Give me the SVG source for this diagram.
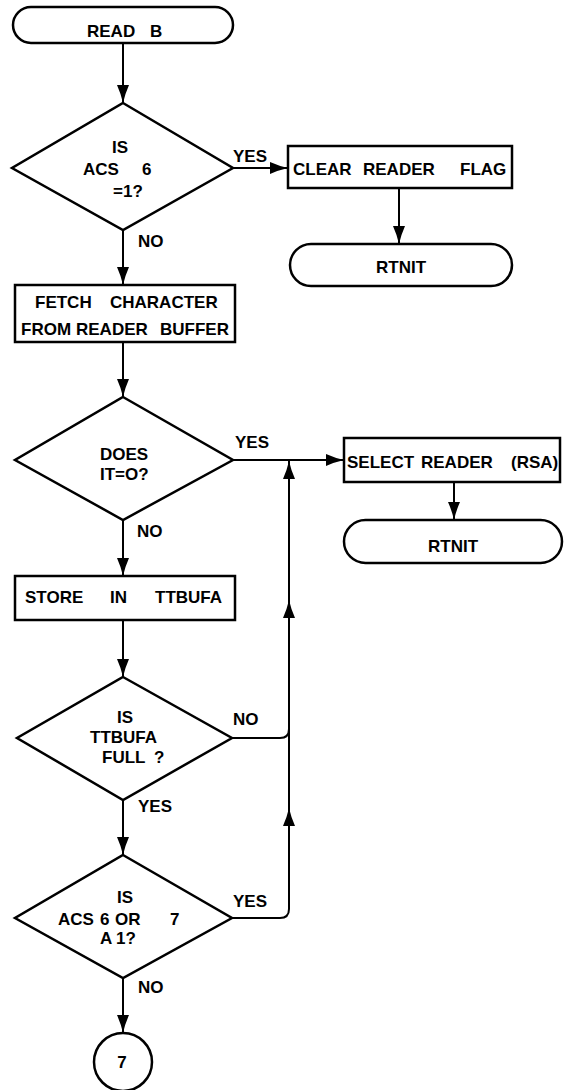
<svg xmlns="http://www.w3.org/2000/svg" width="565" height="1090" viewBox="0 0 565 1090">
<style>
.s{fill:#fff;stroke:#000;stroke-width:2.5}
.c{fill:none;stroke:#000;stroke-width:2}
text{font-family:"Liberation Sans",Arial,sans-serif;font-weight:bold;font-size:17px;fill:#000}
.m{text-anchor:middle}
</style>
<defs>
<marker id="arr" markerUnits="userSpaceOnUse" markerWidth="19" markerHeight="13" refX="18" refY="6.5" orient="auto">
<path d="M0,0.5 Q9,4.5 18,6.5 Q9,8.5 0,12.5 z" fill="#000"/>
</marker>
</defs>
<rect width="565" height="1090" fill="#fff"/>
<g id="connectors">
<path class="c" d="M123,43 V103" marker-end="url(#arr)"/>
<path class="c" d="M233,168 H288" marker-end="url(#arr)"/>
<path class="c" d="M399,188 V244" marker-end="url(#arr)"/>
<path class="c" d="M123,230 V285" marker-end="url(#arr)"/>
<path class="c" d="M123,342 V397" marker-end="url(#arr)"/>
<path class="c" d="M233,460 H344" marker-end="url(#arr)"/>
<path class="c" d="M454,482 V520" marker-end="url(#arr)"/>
<path class="c" d="M123,520 V576" marker-end="url(#arr)"/>
<path class="c" d="M123,620 V677" marker-end="url(#arr)"/>
<path class="c" d="M232,738 H280 Q289,738 289,729"/>
<path class="c" d="M232,918 H280 Q289,918 289,909 V808" marker-end="url(#arr)"/>
<path class="c" d="M289,808 V600" marker-end="url(#arr)"/>
<path class="c" d="M289,600 V461" marker-end="url(#arr)"/>
<path class="c" d="M123,800 V855" marker-end="url(#arr)"/>
<path class="c" d="M123,978 V1033" marker-end="url(#arr)"/>
<text x="233" y="162">YES</text>
<text x="138" y="247">NO</text>
<text x="235" y="448">YES</text>
<text x="137" y="537">NO</text>
<text x="233" y="725">NO</text>
<text x="138" y="812">YES</text>
<text x="233" y="907">YES</text>
<text x="138" y="993">NO</text>
</g>
<g id="readb">
<rect class="s" x="13" y="7" width="220" height="36" rx="18"/>
<text y="37"><tspan x="87">READ</tspan><tspan x="150">B</tspan></text>
</g>
<g id="dec1">
<polygon class="s" points="123,103 233,168 123,230 12,168"/>
<text x="112" y="153">IS</text>
<text y="175"><tspan x="83">ACS</tspan><tspan x="142">6</tspan></text>
<text x="113" y="197">=1?</text>
</g>
<g id="clearflag">
<rect class="s" x="288" y="146" width="224" height="42"/>
<text y="175"><tspan x="293">CLEAR</tspan><tspan x="363">READER</tspan><tspan x="460">FLAG</tspan></text>
</g>
<g id="rtnit1">
<rect class="s" x="290" y="244" width="222" height="42" rx="21"/>
<text class="m" x="401" y="273">RTNIT</text>
</g>
<g id="fetch">
<rect class="s" x="15" y="285" width="220" height="57"/>
<text y="308"><tspan x="35">FETCH</tspan><tspan x="110">CHARACTER</tspan></text>
<text y="335"><tspan x="21">FROM</tspan><tspan x="76">READER</tspan><tspan x="160">BUFFER</tspan></text>
</g>
<g id="dec2">
<polygon class="s" points="123,397 233,460 123,520 15,460"/>
<text x="100" y="460">DOES</text>
<text x="100" y="480">IT=O?</text>
</g>
<g id="selectreader">
<rect class="s" x="344" y="438" width="216" height="44"/>
<text y="468"><tspan x="347">SELECT</tspan><tspan x="421">READER</tspan><tspan x="511">(RSA)</tspan></text>
</g>
<g id="rtnit2">
<rect class="s" x="344" y="520" width="218" height="43" rx="21.5"/>
<text class="m" x="453" y="552">RTNIT</text>
</g>
<g id="store">
<rect class="s" x="15" y="576" width="220" height="44"/>
<text y="603"><tspan x="25">STORE</tspan><tspan x="110">IN</tspan><tspan x="155">TTBUFA</tspan></text>
</g>
<g id="dec3">
<polygon class="s" points="123,677 232,738 123,800 17,738"/>
<text x="117" y="723">IS</text>
<text x="90" y="743">TTBUFA</text>
<text y="763"><tspan x="102">FULL</tspan><tspan x="154">?</tspan></text>
</g>
<g id="dec4">
<polygon class="s" points="123,855 232,918 123,978 15,918"/>
<text x="117" y="903">IS</text>
<text y="925"><tspan x="58">ACS</tspan><tspan x="100">6</tspan><tspan x="115">OR</tspan><tspan x="170">7</tspan></text>
<text y="944"><tspan x="100">A</tspan><tspan x="116">1?</tspan></text>
</g>
<g id="conn7">
<circle class="s" cx="123" cy="1062" r="29"/>
<text class="m" x="122" y="1068">7</text>
</g>
</svg>
